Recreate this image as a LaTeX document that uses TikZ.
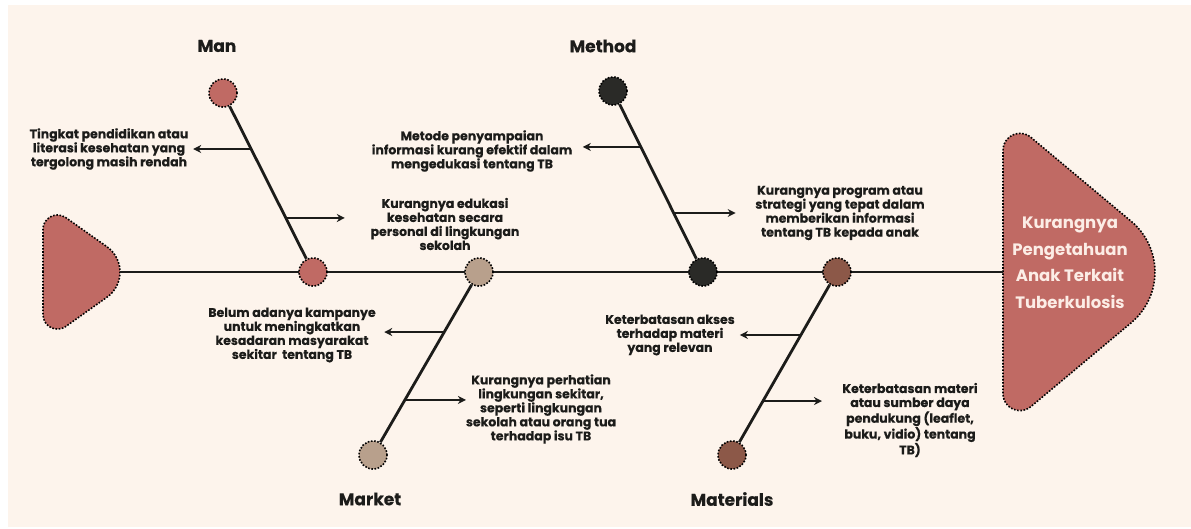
\documentclass[tikz,border=0pt]{standalone}
\usepackage{fontspec}
\setmainfont{Poppins}[BoldFont={Poppins Bold}]
\newfontfamily\lblfont{Poppins Bold}[FakeBold=0.35]
\usetikzlibrary{calc,arrows.meta}
\definecolor{cream}{HTML}{FDF4EC}
\definecolor{manred}{HTML}{C06A64}
\definecolor{markettan}{HTML}{B8A08C}
\definecolor{methoddark}{HTML}{2A2A27}
\definecolor{matbrown}{HTML}{8C5848}
\definecolor{inktext}{HTML}{1C1C1A}
\definecolor{headtext}{HTML}{FCEDE6}
\tikzset{
  circ/.style={circle, minimum size=28pt, inner sep=0pt, draw=black, line width=1.6pt, dash pattern=on 1.6pt off 1.6pt},
  bone/.style={line width=2.8pt, draw=inktext},
  spine/.style={line width=2.8pt, draw=inktext},
  arr/.style={line width=2.1pt, draw=inktext, -{Stealth[length=8pt,width=8pt]}},
  lbl/.style={text=inktext, align=center, inner sep=0pt, font=\lblfont\fontsize{12.5}{14}\selectfont},
  ttl/.style={text=inktext, inner sep=0pt, font=\lblfont\fontsize{17}{19}\selectfont},
  fishend/.style={fill=manred, draw=black, line width=1.6pt, dash pattern=on 1.6pt off 1.6pt},
}
\begin{document}
\begin{tikzpicture}[x=1pt,y=-1pt]
\useasboundingbox (0,0) rectangle (1191,528);
\fill[white] (0,0) rectangle (1191,528);
\fill[cream] (8,5) rectangle (1191,527);
% tail shape
\draw[fishend] (43,272) -- (43,229.5) arc[start angle=180, end angle=304.4, radius=14.5]
  -- (106.5,246.4) arc[start angle=-55.6, end angle=55.6, radius=31]
  -- (65.7,326.5) arc[start angle=55.6, end angle=180, radius=14.5] -- cycle;
% head shape
\draw[fishend] (1003,272) -- (1003,150.4) arc[start angle=180, end angle=309.9, radius=17]
  -- (1131.3,221.4) arc[start angle=-50.1, end angle=50.1, radius=66]
  -- (1030.9,406.6) arc[start angle=50.1, end angle=180, radius=17] -- cycle;
\coordinate (tailtip) at (120,272);
\coordinate (headleft) at (1003,272);
\node[text=headtext, align=center, font=\bfseries\fontsize{16.5}{26.5}\selectfont] (head) at (1070,263)
  {Kurangnya\\Pengetahuan\\Anak Terkait\\Tuberkulosis};
% spine
\draw[spine] (tailtip) -- (headleft);
% circles
\node[circ, fill=manred] (mantop) at (223,93) {};
\node[circ, fill=manred] (manspine) at (313,272) {};
\node[circ, fill=markettan] (marketspine) at (479,272) {};
\node[circ, fill=markettan] (marketbot) at (373,455) {};
\node[circ, fill=methoddark] (methodtop) at (613,91) {};
\node[circ, fill=methoddark] (methodspine) at (703,272) {};
\node[circ, fill=matbrown] (matspine) at (837,272) {};
\node[circ, fill=matbrown] (matbot) at (732,455) {};
% bones
\draw[bone] (mantop) -- (manspine);
\draw[bone] (methodtop) -- (methodspine);
\draw[bone] (marketspine) -- (marketbot);
\draw[bone] (matspine) -- (matbot);
% titles
\node[ttl] (tman) at (217,46) {Man};
\node[ttl] (tmethod) at (603,46) {Method};
\node[ttl] (tmarket) at (370,499) {Market};
\node[ttl] (tmat) at (732,499) {Materials};
% branch points
\coordinate (p1) at ($(mantop)!0.313!(manspine)$);
\coordinate (p2) at ($(mantop)!0.698!(manspine)$);
\coordinate (p3) at ($(methodtop)!0.309!(methodspine)$);
\coordinate (p4) at ($(methodtop)!0.674!(methodspine)$);
\coordinate (p5) at ($(marketspine)!0.328!(marketbot)$);
\coordinate (p6) at ($(marketspine)!0.699!(marketbot)$);
\coordinate (p7) at ($(matspine)!0.344!(matbot)$);
\coordinate (p8) at ($(matspine)!0.705!(matbot)$);
\coordinate (e1) at ($(p1)+(-58,0)$);
\coordinate (e2) at ($(p2)+(59,0)$);
\coordinate (e3) at ($(p3)+(-58,0)$);
\coordinate (e4) at ($(p4)+(62,0)$);
\coordinate (e5) at ($(p5)+(-60,0)$);
\coordinate (e6) at ($(p6)+(61,0)$);
\coordinate (e7) at ($(p7)+(-61,0)$);
\coordinate (e8) at ($(p8)+(59,0)$);
\foreach \a/\b in {p1/e1,p2/e2,p3/e3,p4/e4,p5/e5,p6/e6,p7/e7,p8/e8}
  \draw[arr] (\a) -- (\b);
% labels
\node[lbl] (l1) at (109,149) {Tingkat pendidikan atau\\literasi kesehatan yang\\tergolong masih rendah};
\node[lbl] (l2) at (445,224) {Kurangnya edukasi\\kesehatan secara\\personal di lingkungan\\sekolah};
\node[lbl] (l3) at (472,151) {Metode penyampaian\\informasi kurang efektif dalam\\mengedukasi tentang TB};
\node[lbl] (l4) at (840,213) {Kurangnya program atau\\strategi yang tepat dalam\\memberikan informasi\\tentang TB kepada anak};
\node[lbl] (l5) at (292,335) {Belum adanya kampanye\\untuk meningkatkan\\kesadaran masyarakat\\sekitar~ tentang TB};
\node[lbl] (l6) at (541,409) {Kurangnya perhatian\\lingkungan sekitar,\\seperti lingkungan\\sekolah atau orang tua\\terhadap isu TB};
\node[lbl] (l7) at (670,335) {Keterbatasan akses\\terhadap materi\\yang relevan};
\node[lbl] (l8) at (910,420) {Keterbatasan materi\\atau sumber daya\\pendukung (leaflet,\\buku, vidio) tentang\\TB)};
\end{tikzpicture}
\end{document}
